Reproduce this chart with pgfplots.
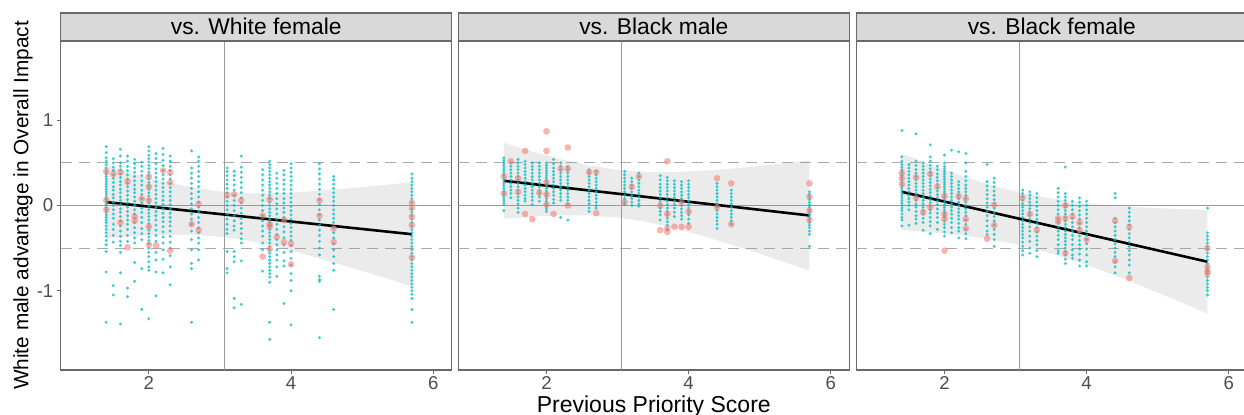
\documentclass[border=0pt]{standalone}
\usepackage{fontspec}
\setmainfont{Liberation Sans}
\usepackage{pgfplots}
\pgfplotsset{compat=1.18}

\definecolor{cyanc}{RGB}{0,191,196}
\definecolor{salm}{RGB}{248,118,109}
\definecolor{bandc}{RGB}{153,153,153}
\definecolor{refc}{RGB}{155,155,155}
\definecolor{dashc}{RGB}{170,170,170}
\definecolor{borderc}{RGB}{105,105,105}
\definecolor{stripc}{RGB}{217,217,217}
\definecolor{tickc}{RGB}{77,77,77}

\pgfplotsset{
  facet/.style={
    scale only axis, width=195.5bp, height=164.5bp,
    xmin=0.76, xmax=6.26, ymin=-1.93, ymax=1.93,
    anchor=south west,
    axis line style={draw=borderc, line width=0.6bp},
    xtick={2,4,6}, xticklabels={2,4,6},
    tick align=outside, major tick length=2bp,
    tick style={draw=borderc, line width=0.5bp},
    tick pos=left,
    ticklabel style={font=\fontsize{9.3bp}{10bp}\selectfont, text=tickc},
    xticklabel style={inner sep=1.2bp},
    yticklabel style={inner sep=1.5bp},
  },
  cyandots/.style={only marks, mark=*, mark size=0.75bp,
    mark options={draw=cyanc, fill=cyanc, line width=0.01bp, opacity=0.75}},
  salmdots/.style={only marks, mark=*, mark size=1.6bp,
    mark options={draw=salm, fill=salm, line width=0.01bp, opacity=0.55}},
  band/.style={draw=none, fill=bandc, fill opacity=0.2},
  fitline/.style={black, line width=1.3bp},
  refsolid/.style={refc, line width=0.55bp},
  refdash/.style={dashc, line width=0.55bp, dash pattern=on 5.5bp off 3.5bp},
}

\newcommand{\refs}{%
  \addplot[refdash] coordinates {(0.76,0.5)(6.26,0.5)};
  \addplot[refdash] coordinates {(0.76,-0.5)(6.26,-0.5)};
  \addplot[refsolid] coordinates {(0.76,0)(6.26,0)};
  \addplot[refsolid] coordinates {(3.06,-1.93)(3.06,1.93)};
}

\begin{document}
\begin{tikzpicture}
\useasboundingbox (0,0) rectangle (622bp,207.5bp);
\clip (0,0) rectangle (622bp,207.5bp);

% ---------- vs. White female
\begin{axis}[facet, at={(30.35bp,22.5bp)}, ytick={-1,0,1}, yticklabels={-1,0,1}]
\refs
\addplot[cyandots] coordinates {
(1.4,0.69)(1.4,0.62)(1.4,0.56)(1.4,0.52)(1.4,0.48)(1.4,0.44)(1.4,0.40)(1.4,0.37)(1.4,0.34)(1.4,0.31)(1.4,0.28)(1.4,0.25)(1.4,0.22)(1.4,0.19)(1.4,0.16)(1.4,0.13)(1.4,0.10)(1.4,0.07)(1.4,0.04)(1.4,0.01)(1.4,-0.02)(1.4,-0.05)(1.4,-0.08)(1.4,-0.11)(1.4,-0.14)(1.4,-0.17)(1.4,-0.20)(1.4,-0.24)(1.4,-0.28)(1.4,-0.32)(1.4,-0.36)(1.4,-0.41)(1.4,-0.46)(1.4,-0.54)(1.4,-0.78)(1.4,-1.37)
(1.5,0.55)(1.5,0.50)(1.5,0.45)(1.5,0.41)(1.5,0.36)(1.5,0.32)(1.5,0.27)(1.5,0.22)(1.5,0.18)(1.5,0.13)(1.5,0.09)(1.5,0.04)(1.5,0.00)(1.5,-0.05)(1.5,-0.10)(1.5,-0.15)(1.5,-0.22)(1.5,-0.28)(1.5,-0.35)(1.5,-0.43)(1.5,-0.94)(1.5,-1.05)
(1.6,0.66)(1.6,0.58)(1.6,0.50)(1.6,0.46)(1.6,0.42)(1.6,0.37)(1.6,0.33)(1.6,0.28)(1.6,0.24)(1.6,0.19)(1.6,0.15)(1.6,0.10)(1.6,0.06)(1.6,0.01)(1.6,-0.04)(1.6,-0.08)(1.6,-0.13)(1.6,-0.18)(1.6,-0.24)(1.6,-0.30)(1.6,-0.36)(1.6,-0.42)(1.6,-0.47)(1.6,-0.55)(1.6,-0.79)(1.6,-1.39)
(1.7,0.58)(1.7,0.52)(1.7,0.46)(1.7,0.41)(1.7,0.36)(1.7,0.31)(1.7,0.26)(1.7,0.22)(1.7,0.17)(1.7,0.12)(1.7,0.07)(1.7,0.03)(1.7,-0.02)(1.7,-0.07)(1.7,-0.12)(1.7,-0.17)(1.7,-0.22)(1.7,-0.28)(1.7,-0.35)(1.7,-0.42)(1.7,-0.97)(1.7,-1.07)
(1.8,0.54)(1.8,0.49)(1.8,0.44)(1.8,0.39)(1.8,0.34)(1.8,0.29)(1.8,0.24)(1.8,0.19)(1.8,0.15)(1.8,0.10)(1.8,0.05)(1.8,0.00)(1.8,-0.05)(1.8,-0.10)(1.8,-0.15)(1.8,-0.20)(1.8,-0.26)(1.8,-0.32)(1.8,-0.38)(1.8,-0.44)(1.8,-0.67)(1.8,-0.89)
(1.9,0.51)(1.9,0.46)(1.9,0.40)(1.9,0.35)(1.9,0.29)(1.9,0.24)(1.9,0.18)(1.9,0.13)(1.9,0.08)(1.9,0.03)(1.9,-0.03)(1.9,-0.08)(1.9,-0.14)(1.9,-0.20)(1.9,-0.27)(1.9,-0.33)(1.9,-0.40)(1.9,-0.74)(1.9,-1.22)
(2.0,0.69)(2.0,0.64)(2.0,0.59)(2.0,0.55)(2.0,0.51)(2.0,0.47)(2.0,0.43)(2.0,0.39)(2.0,0.35)(2.0,0.31)(2.0,0.27)(2.0,0.23)(2.0,0.19)(2.0,0.15)(2.0,0.11)(2.0,0.07)(2.0,0.03)(2.0,-0.01)(2.0,-0.05)(2.0,-0.09)(2.0,-0.13)(2.0,-0.17)(2.0,-0.21)(2.0,-0.25)(2.0,-0.29)(2.0,-0.33)(2.0,-0.37)(2.0,-0.41)(2.0,-0.45)(2.0,-0.50)(2.0,-0.55)(2.0,-0.60)(2.0,-0.66)(2.0,-0.72)(2.0,-0.76)(2.0,-1.33)
(2.1,0.61)(2.1,0.55)(2.1,0.49)(2.1,0.43)(2.1,0.38)(2.1,0.33)(2.1,0.28)(2.1,0.23)(2.1,0.18)(2.1,0.13)(2.1,0.08)(2.1,0.03)(2.1,-0.02)(2.1,-0.07)(2.1,-0.12)(2.1,-0.17)(2.1,-0.23)(2.1,-0.29)(2.1,-0.35)(2.1,-0.42)(2.1,-0.55)(2.1,-0.64)(2.1,-0.78)(2.1,-1.06)
(2.2,0.67)(2.2,0.60)(2.2,0.53)(2.2,0.47)(2.2,0.41)(2.2,0.36)(2.2,0.31)(2.2,0.26)(2.2,0.21)(2.2,0.16)(2.2,0.11)(2.2,0.06)(2.2,0.01)(2.2,-0.04)(2.2,-0.09)(2.2,-0.14)(2.2,-0.19)(2.2,-0.25)(2.2,-0.31)(2.2,-0.37)(2.2,-0.44)(2.2,-0.52)(2.2,-0.63)(2.2,-0.79)
(2.3,0.58)(2.3,0.52)(2.3,0.46)(2.3,0.41)(2.3,0.36)(2.3,0.31)(2.3,0.26)(2.3,0.21)(2.3,0.16)(2.3,0.11)(2.3,0.06)(2.3,0.01)(2.3,-0.04)(2.3,-0.09)(2.3,-0.14)(2.3,-0.19)(2.3,-0.24)(2.3,-0.30)(2.3,-0.36)(2.3,-0.43)(2.3,-0.50)(2.3,-0.59)(2.3,-0.72)(2.3,-0.93)
(2.6,0.64)(2.6,0.44)(2.6,0.38)(2.6,0.32)(2.6,0.26)(2.6,0.20)(2.6,0.14)(2.6,0.08)(2.6,0.02)(2.6,-0.04)(2.6,-0.10)(2.6,-0.16)(2.6,-0.22)(2.6,-0.30)(2.6,-0.40)(2.6,-0.52)(2.6,-0.68)(2.6,-0.74)(2.6,-1.37)
(2.7,0.57)(2.7,0.52)(2.7,0.46)(2.7,0.40)(2.7,0.34)(2.7,0.28)(2.7,0.22)(2.7,0.16)(2.7,0.10)(2.7,0.04)(2.7,-0.02)(2.7,-0.08)(2.7,-0.14)(2.7,-0.20)(2.7,-0.26)(2.7,-0.32)(2.7,-0.38)(2.7,-0.44)(2.7,-0.52)(2.7,-0.64)
(3.1,0.44)(3.1,0.40)(3.1,0.35)(3.1,0.30)(3.1,0.25)(3.1,0.20)(3.1,0.15)(3.1,0.10)(3.1,0.05)(3.1,0.00)(3.1,-0.05)(3.1,-0.10)(3.1,-0.16)(3.1,-0.22)(3.1,-0.28)(3.1,-0.33)(3.1,-0.54)(3.1,-0.74)(3.1,-0.79)
(3.2,0.40)(3.2,0.35)(3.2,0.30)(3.2,0.24)(3.2,0.18)(3.2,0.12)(3.2,0.06)(3.2,0.00)(3.2,-0.06)(3.2,-0.12)(3.2,-0.18)(3.2,-0.24)(3.2,-0.29)(3.2,-0.54)(3.2,-0.60)(3.2,-0.66)(3.2,-1.09)(3.2,-1.20)
(3.3,0.58)(3.3,0.45)(3.3,0.39)(3.3,0.33)(3.3,0.27)(3.3,0.21)(3.3,0.15)(3.3,0.09)(3.3,0.03)(3.3,-0.03)(3.3,-0.09)(3.3,-0.15)(3.3,-0.21)(3.3,-0.27)(3.3,-0.33)(3.3,-0.39)(3.3,-0.44)(3.3,-0.65)(3.3,-1.16)
(3.6,0.42)(3.6,0.36)(3.6,0.30)(3.6,0.24)(3.6,0.18)(3.6,0.12)(3.6,0.06)(3.6,0.00)(3.6,-0.06)(3.6,-0.12)(3.6,-0.18)(3.6,-0.24)(3.6,-0.30)(3.6,-0.36)(3.6,-0.44)(3.6,-0.52)(3.6,-0.77)
(3.7,0.52)(3.7,0.48)(3.7,0.44)(3.7,0.40)(3.7,0.36)(3.7,0.32)(3.7,0.28)(3.7,0.24)(3.7,0.20)(3.7,0.16)(3.7,0.12)(3.7,0.08)(3.7,0.04)(3.7,0.00)(3.7,-0.04)(3.7,-0.08)(3.7,-0.12)(3.7,-0.16)(3.7,-0.20)(3.7,-0.24)(3.7,-0.28)(3.7,-0.32)(3.7,-0.36)(3.7,-0.40)(3.7,-0.44)(3.7,-0.48)(3.7,-0.52)(3.7,-0.56)(3.7,-0.60)(3.7,-0.64)(3.7,-0.68)(3.7,-0.72)(3.7,-0.76)(3.7,-0.80)(3.7,-0.84)(3.7,-0.90)(3.7,-1.37)(3.7,-1.57)
(3.8,0.38)(3.8,0.32)(3.8,0.26)(3.8,0.20)(3.8,0.14)(3.8,0.08)(3.8,0.02)(3.8,-0.04)(3.8,-0.10)(3.8,-0.16)(3.8,-0.22)(3.8,-0.28)(3.8,-0.34)(3.8,-0.40)(3.8,-0.46)(3.8,-0.52)(3.8,-0.58)(3.8,-0.64)(3.8,-0.72)(3.8,-0.83)
(3.9,0.41)(3.9,0.36)(3.9,0.30)(3.9,0.25)(3.9,0.19)(3.9,0.14)(3.9,0.08)(3.9,0.03)(3.9,-0.03)(3.9,-0.08)(3.9,-0.14)(3.9,-0.19)(3.9,-0.25)(3.9,-0.31)(3.9,-0.38)(3.9,-0.46)(3.9,-0.55)(3.9,-0.65)(3.9,-0.71)(3.9,-1.15)
(4.0,0.49)(4.0,0.44)(4.0,0.39)(4.0,0.34)(4.0,0.29)(4.0,0.24)(4.0,0.19)(4.0,0.14)(4.0,0.09)(4.0,0.04)(4.0,-0.01)(4.0,-0.06)(4.0,-0.11)(4.0,-0.16)(4.0,-0.21)(4.0,-0.26)(4.0,-0.31)(4.0,-0.36)(4.0,-0.41)(4.0,-0.47)(4.0,-0.54)(4.0,-0.62)(4.0,-0.70)(4.0,-0.80)(4.0,-0.88)(4.0,-1.00)(4.0,-1.40)
(4.4,0.49)(4.4,0.43)(4.4,0.37)(4.4,0.31)(4.4,0.25)(4.4,0.19)(4.4,0.13)(4.4,0.07)(4.4,0.01)(4.4,-0.05)(4.4,-0.11)(4.4,-0.17)(4.4,-0.23)(4.4,-0.29)(4.4,-0.35)(4.4,-0.42)(4.4,-0.50)(4.4,-0.58)(4.4,-0.83)(4.4,-0.87)(4.4,-0.89)(4.4,-1.55)
(4.6,0.34)(4.6,0.30)(4.6,0.25)(4.6,0.20)(4.6,0.15)(4.6,0.10)(4.6,0.05)(4.6,0.00)(4.6,-0.05)(4.6,-0.10)(4.6,-0.15)(4.6,-0.20)(4.6,-0.26)(4.6,-0.32)(4.6,-0.38)(4.6,-0.45)(4.6,-0.52)(4.6,-0.60)(4.6,-0.68)(4.6,-0.76)(4.6,-1.22)
(5.7,0.37)(5.7,0.32)(5.7,0.28)(5.7,0.24)(5.7,0.20)(5.7,0.16)(5.7,0.12)(5.7,0.08)(5.7,0.04)(5.7,0.00)(5.7,-0.04)(5.7,-0.08)(5.7,-0.12)(5.7,-0.16)(5.7,-0.20)(5.7,-0.24)(5.7,-0.28)(5.7,-0.32)(5.7,-0.36)(5.7,-0.40)(5.7,-0.44)(5.7,-0.48)(5.7,-0.52)(5.7,-0.56)(5.7,-0.60)(5.7,-0.64)(5.7,-0.68)(5.7,-0.72)(5.7,-0.76)(5.7,-0.80)(5.7,-0.84)(5.7,-0.88)(5.7,-0.92)(5.7,-0.96)(5.7,-1.00)(5.7,-1.04)(5.7,-1.09)(5.7,-1.22)(5.7,-1.37)
};
\addplot[salmdots] coordinates {
(1.4,0.40)(1.4,0.06)(1.4,-0.05)(1.5,0.37)(1.6,0.39)(1.6,-0.20)(1.7,0.28)(1.7,-0.49)(1.8,-0.13)(1.8,-0.18)(1.9,0.08)(2.0,0.34)(2.0,0.22)(2.0,0.06)(2.0,-0.25)(2.0,-0.46)(2.1,-0.47)(2.2,0.41)(2.3,0.39)(2.3,0.27)(2.3,-0.53)(2.6,-0.22)(2.7,0.02)(2.7,-0.29)(3.1,0.12)(3.2,0.13)(3.3,0.06)(3.6,-0.12)(3.6,-0.60)(3.7,0.07)(3.7,-0.22)(3.7,-0.25)(3.7,-0.51)(3.8,-0.37)(3.9,-0.17)(3.9,-0.43)(4.0,-0.45)(4.0,-0.69)(4.4,0.06)(4.4,-0.12)(4.6,-0.27)(4.6,-0.43)(5.7,0.03)(5.7,-0.03)(5.7,-0.13)(5.7,-0.23)(5.7,-0.61)
};
\addplot[band] coordinates {
(1.4,0.47)(1.8,0.372)(2.2,0.285)(2.6,0.213)(3.0,0.165)(3.4,0.143)(3.8,0.145)(4.2,0.161)(4.6,0.189)(5.0,0.214)(5.4,0.249)(5.7,0.273)
(5.7,-0.947)(5.4,-0.871)(5.0,-0.766)(4.6,-0.671)(4.2,-0.573)(3.8,-0.485)(3.4,-0.413)(3.0,-0.365)(2.6,-0.343)(2.2,-0.345)(1.8,-0.362)(1.4,-0.39)
};
\addplot[fitline] coordinates {(1.4,0.04)(5.7,-0.337)};
\end{axis}

% ---------- vs. Black male
\begin{axis}[facet, at={(229.15bp,22.5bp)}, ytick=\empty]
\refs
\addplot[cyandots] coordinates {
(1.4,0.56)(1.4,0.53)(1.4,0.50)(1.4,0.47)(1.4,0.44)(1.4,0.41)(1.4,0.38)(1.4,0.35)(1.4,0.32)(1.4,0.29)(1.4,0.26)(1.4,0.23)(1.4,0.20)(1.4,0.17)(1.4,0.14)(1.4,0.11)(1.4,0.08)(1.4,0.05)(1.4,0.02)(1.4,-0.06)
(1.5,0.50)(1.5,0.46)(1.5,0.42)(1.5,0.38)(1.5,0.34)(1.5,0.30)(1.5,0.26)(1.5,0.22)(1.5,0.18)(1.5,0.14)(1.5,0.09)
(1.6,0.54)(1.6,0.50)(1.6,0.46)(1.6,0.42)(1.6,0.38)(1.6,0.34)(1.6,0.30)(1.6,0.26)(1.6,0.22)(1.6,0.18)(1.6,0.14)(1.6,0.10)(1.6,0.06)(1.6,0.02)(1.6,-0.03)(1.6,-0.08)
(1.7,0.52)(1.7,0.48)(1.7,0.44)(1.7,0.40)(1.7,0.36)(1.7,0.32)(1.7,0.28)(1.7,0.24)(1.7,0.20)(1.7,0.16)(1.7,0.12)(1.7,0.08)(1.7,0.05)
(1.8,0.50)(1.8,0.46)(1.8,0.42)(1.8,0.38)(1.8,0.34)(1.8,0.30)(1.8,0.26)(1.8,0.22)(1.8,0.18)(1.8,0.14)(1.8,0.10)(1.8,0.06)(1.8,0.01)
(1.9,0.50)(1.9,0.46)(1.9,0.42)(1.9,0.38)(1.9,0.34)(1.9,0.30)(1.9,0.26)(1.9,0.22)(1.9,0.18)(1.9,0.14)(1.9,0.10)(1.9,0.05)
(2.0,0.50)(2.0,0.47)(2.0,0.44)(2.0,0.41)(2.0,0.38)(2.0,0.35)(2.0,0.32)(2.0,0.29)(2.0,0.26)(2.0,0.23)(2.0,0.20)(2.0,0.17)(2.0,0.14)(2.0,0.11)(2.0,0.08)(2.0,0.05)(2.0,0.02)(2.0,-0.01)(2.0,-0.04)(2.0,-0.07)
(2.1,0.54)(2.1,0.49)(2.1,0.44)(2.1,0.40)(2.1,0.36)(2.1,0.32)(2.1,0.28)(2.1,0.24)(2.1,0.20)(2.1,0.16)(2.1,0.12)(2.1,0.07)(2.1,0.03)
(2.2,0.50)(2.2,0.46)(2.2,0.42)(2.2,0.38)(2.2,0.34)(2.2,0.30)(2.2,0.26)(2.2,0.22)(2.2,0.18)(2.2,0.14)(2.2,0.10)(2.2,0.06)(2.2,-0.14)
(2.3,0.46)(2.3,0.42)(2.3,0.38)(2.3,0.34)(2.3,0.30)(2.3,0.26)(2.3,0.22)(2.3,0.18)(2.3,0.14)(2.3,0.10)(2.3,0.06)(2.3,0.02)(2.3,-0.17)
(2.6,0.42)(2.6,0.38)(2.6,0.34)(2.6,0.30)(2.6,0.26)(2.6,0.22)(2.6,0.18)(2.6,0.14)(2.6,0.10)(2.6,0.06)(2.6,0.02)(2.6,-0.03)(2.6,-0.07)
(2.7,0.40)(2.7,0.36)(2.7,0.32)(2.7,0.28)(2.7,0.24)(2.7,0.20)(2.7,0.16)(2.7,0.12)(2.7,0.08)(2.7,0.04)(2.7,0.00)(2.7,-0.03)
(3.1,0.40)(3.1,0.36)(3.1,0.32)(3.1,0.28)(3.1,0.24)(3.1,0.20)(3.1,0.16)(3.1,0.12)(3.1,0.08)(3.1,0.04)(3.1,0.01)
(3.2,0.32)(3.2,0.28)(3.2,0.24)(3.2,0.20)(3.2,0.16)(3.2,0.12)(3.2,0.08)(3.2,0.04)(3.2,0.00)
(3.3,0.38)(3.3,0.34)(3.3,0.30)(3.3,0.26)(3.3,0.22)(3.3,0.18)(3.3,0.14)(3.3,0.10)(3.3,0.06)(3.3,0.02)(3.3,-0.01)
(3.6,0.35)(3.6,0.30)(3.6,0.25)(3.6,0.21)(3.6,0.17)(3.6,0.13)(3.6,0.09)(3.6,0.05)(3.6,0.01)(3.6,-0.03)(3.6,-0.07)(3.6,-0.11)(3.6,-0.17)
(3.7,0.33)(3.7,0.29)(3.7,0.25)(3.7,0.21)(3.7,0.17)(3.7,0.13)(3.7,0.09)(3.7,0.05)(3.7,0.01)(3.7,-0.03)(3.7,-0.07)(3.7,-0.11)(3.7,-0.15)(3.7,-0.19)(3.7,-0.23)(3.7,-0.28)
(3.8,0.29)(3.8,0.25)(3.8,0.21)(3.8,0.17)(3.8,0.13)(3.8,0.09)(3.8,0.05)(3.8,0.01)(3.8,-0.03)(3.8,-0.08)(3.8,-0.13)
(3.9,0.28)(3.9,0.24)(3.9,0.20)(3.9,0.16)(3.9,0.12)(3.9,0.08)(3.9,0.04)(3.9,0.00)(3.9,-0.04)(3.9,-0.08)(3.9,-0.12)(3.9,-0.16)
(4.0,0.29)(4.0,0.25)(4.0,0.21)(4.0,0.17)(4.0,0.13)(4.0,0.09)(4.0,0.05)(4.0,0.01)(4.0,-0.03)(4.0,-0.07)(4.0,-0.11)(4.0,-0.16)(4.0,-0.21)
(4.4,0.26)(4.4,0.22)(4.4,0.18)(4.4,0.14)(4.4,0.10)(4.4,0.06)(4.4,0.02)(4.4,-0.02)(4.4,-0.06)(4.4,-0.10)(4.4,-0.14)(4.4,-0.18)(4.4,-0.22)(4.4,-0.27)
(4.6,0.18)(4.6,0.14)(4.6,0.10)(4.6,0.06)(4.6,0.02)(4.6,-0.02)(4.6,-0.06)(4.6,-0.10)(4.6,-0.14)(4.6,-0.18)(4.6,-0.22)
(5.7,0.16)(5.7,0.13)(5.7,0.10)(5.7,0.07)(5.7,0.04)(5.7,0.01)(5.7,-0.02)(5.7,-0.05)(5.7,-0.08)(5.7,-0.11)(5.7,-0.14)(5.7,-0.17)(5.7,-0.20)(5.7,-0.23)(5.7,-0.26)(5.7,-0.30)(5.7,-0.34)(5.7,-0.48)
};
\addplot[salmdots] coordinates {
(1.4,0.34)(1.4,0.14)(1.5,0.52)(1.6,0.32)(1.6,0.16)(1.7,0.64)(1.7,-0.10)(1.8,-0.16)(1.9,0.15)(2.0,0.87)(2.0,0.64)(2.0,0.27)(2.0,0.13)(2.0,0.01)(2.1,-0.10)(2.2,0.43)(2.3,0.68)(2.3,0.43)(2.3,0.00)(2.6,0.39)(2.7,0.39)(2.7,-0.09)(3.1,0.04)(3.2,0.22)(3.3,0.34)(3.6,0.00)(3.6,-0.29)(3.7,0.52)(3.7,-0.10)(3.7,-0.27)(3.7,-0.31)(3.8,-0.25)(3.9,0.04)(3.9,-0.25)(4.0,-0.07)(4.0,-0.25)(4.4,0.32)(4.4,-0.02)(4.6,0.26)(4.6,-0.22)(5.7,0.26)(5.7,0.10)(5.7,-0.06)(5.7,-0.17)
};
\addplot[band] coordinates {
(1.4,0.735)(1.8,0.634)(2.2,0.543)(2.6,0.469)(3.0,0.419)(3.4,0.394)(3.8,0.392)(4.2,0.407)(4.6,0.432)(5.0,0.464)(5.4,0.500)(5.7,0.530)
(5.7,-0.764)(5.4,-0.678)(5.0,-0.566)(4.6,-0.458)(4.2,-0.357)(3.8,-0.266)(3.4,-0.192)(3.0,-0.141)(2.6,-0.117)(2.2,-0.115)(1.8,-0.130)(1.4,-0.155)
};
\addplot[fitline] coordinates {(1.4,0.29)(5.7,-0.117)};
\end{axis}

% ---------- vs. Black female
\begin{axis}[facet, at={(428.15bp,22.5bp)}, ytick=\empty]
\refs
\addplot[cyandots] coordinates {
(1.4,0.88)(1.4,0.57)(1.4,0.52)(1.4,0.48)(1.4,0.45)(1.4,0.42)(1.4,0.39)(1.4,0.36)(1.4,0.33)(1.4,0.30)(1.4,0.27)(1.4,0.24)(1.4,0.21)(1.4,0.18)(1.4,0.15)(1.4,0.12)(1.4,0.09)(1.4,0.06)(1.4,0.03)(1.4,0.00)(1.4,-0.03)(1.4,-0.06)(1.4,-0.10)(1.4,-0.14)(1.4,-0.17)(1.4,-0.24)
(1.5,0.48)(1.5,0.44)(1.5,0.40)(1.5,0.36)(1.5,0.32)(1.5,0.28)(1.5,0.24)(1.5,0.20)(1.5,0.16)(1.5,0.12)(1.5,0.08)(1.5,0.04)(1.5,0.00)(1.5,-0.05)(1.5,-0.23)
(1.6,0.84)(1.6,0.52)(1.6,0.47)(1.6,0.42)(1.6,0.38)(1.6,0.34)(1.6,0.30)(1.6,0.26)(1.6,0.22)(1.6,0.18)(1.6,0.14)(1.6,0.10)(1.6,0.06)(1.6,0.02)(1.6,-0.02)(1.6,-0.07)(1.6,-0.12)(1.6,-0.16)(1.6,-0.21)
(1.7,0.50)(1.7,0.46)(1.7,0.42)(1.7,0.38)(1.7,0.34)(1.7,0.30)(1.7,0.26)(1.7,0.22)(1.7,0.18)(1.7,0.14)(1.7,0.10)(1.7,0.06)(1.7,0.02)(1.7,-0.02)(1.7,-0.06)(1.7,-0.10)(1.7,-0.15)(1.7,-0.20)(1.7,-0.29)
(1.8,0.71)(1.8,0.57)(1.8,0.52)(1.8,0.47)(1.8,0.43)(1.8,0.39)(1.8,0.35)(1.8,0.31)(1.8,0.27)(1.8,0.23)(1.8,0.19)(1.8,0.15)(1.8,0.11)(1.8,0.07)(1.8,0.03)(1.8,-0.01)(1.8,-0.05)(1.8,-0.09)(1.8,-0.14)(1.8,-0.19)(1.8,-0.24)(1.8,-0.33)
(1.9,0.46)(1.9,0.42)(1.9,0.37)(1.9,0.33)(1.9,0.29)(1.9,0.25)(1.9,0.21)(1.9,0.17)(1.9,0.13)(1.9,0.09)(1.9,0.05)(1.9,0.01)(1.9,-0.04)(1.9,-0.09)(1.9,-0.14)(1.9,-0.20)(1.9,-0.28)
(2.0,0.59)(2.0,0.50)(2.0,0.46)(2.0,0.43)(2.0,0.40)(2.0,0.37)(2.0,0.34)(2.0,0.31)(2.0,0.28)(2.0,0.25)(2.0,0.22)(2.0,0.19)(2.0,0.16)(2.0,0.13)(2.0,0.10)(2.0,0.07)(2.0,0.04)(2.0,0.01)(2.0,-0.02)(2.0,-0.05)(2.0,-0.08)(2.0,-0.11)(2.0,-0.14)(2.0,-0.18)(2.0,-0.22)(2.0,-0.26)(2.0,-0.31)(2.0,-0.36)
(2.1,0.65)(2.1,0.38)(2.1,0.34)(2.1,0.30)(2.1,0.26)(2.1,0.22)(2.1,0.18)(2.1,0.14)(2.1,0.10)(2.1,0.06)(2.1,0.02)(2.1,-0.02)(2.1,-0.06)(2.1,-0.10)(2.1,-0.15)(2.1,-0.20)(2.1,-0.26)(2.1,-0.32)
(2.2,0.63)(2.2,0.28)(2.2,0.24)(2.2,0.20)(2.2,0.16)(2.2,0.12)(2.2,0.08)(2.2,0.04)(2.2,0.00)(2.2,-0.04)(2.2,-0.08)(2.2,-0.12)(2.2,-0.16)(2.2,-0.21)(2.2,-0.26)(2.2,-0.30)(2.2,-0.38)
(2.3,0.61)(2.3,0.50)(2.3,0.40)(2.3,0.34)(2.3,0.29)(2.3,0.24)(2.3,0.20)(2.3,0.16)(2.3,0.12)(2.3,0.08)(2.3,0.04)(2.3,0.00)(2.3,-0.04)(2.3,-0.08)(2.3,-0.12)(2.3,-0.17)(2.3,-0.22)(2.3,-0.28)(2.3,-0.33)(2.3,-0.39)
(2.6,0.48)(2.6,0.28)(2.6,0.23)(2.6,0.18)(2.6,0.13)(2.6,0.08)(2.6,0.03)(2.6,-0.02)(2.6,-0.07)(2.6,-0.12)(2.6,-0.18)(2.6,-0.24)(2.6,-0.30)(2.6,-0.34)
(2.7,0.32)(2.7,0.27)(2.7,0.22)(2.7,0.17)(2.7,0.12)(2.7,0.07)(2.7,0.02)(2.7,-0.03)(2.7,-0.08)(2.7,-0.13)(2.7,-0.18)(2.7,-0.23)(2.7,-0.28)(2.7,-0.34)(2.7,-0.40)(2.7,-0.48)
(3.1,0.18)(3.1,0.14)(3.1,0.10)(3.1,0.06)(3.1,0.02)(3.1,-0.02)(3.1,-0.06)(3.1,-0.10)(3.1,-0.14)(3.1,-0.18)(3.1,-0.22)(3.1,-0.26)(3.1,-0.30)(3.1,-0.34)(3.1,-0.38)(3.1,-0.43)(3.1,-0.48)(3.1,-0.53)(3.1,-0.58)
(3.2,0.16)(3.2,0.12)(3.2,0.08)(3.2,0.04)(3.2,0.00)(3.2,-0.04)(3.2,-0.08)(3.2,-0.12)(3.2,-0.16)(3.2,-0.20)(3.2,-0.25)(3.2,-0.30)(3.2,-0.36)(3.2,-0.42)(3.2,-0.50)(3.2,-0.56)
(3.3,0.14)(3.3,0.09)(3.3,0.04)(3.3,-0.01)(3.3,-0.06)(3.3,-0.11)(3.3,-0.16)(3.3,-0.21)(3.3,-0.26)(3.3,-0.31)(3.3,-0.36)(3.3,-0.41)(3.3,-0.46)(3.3,-0.53)(3.3,-0.60)
(3.6,0.20)(3.6,0.15)(3.6,0.10)(3.6,0.05)(3.6,0.00)(3.6,-0.05)(3.6,-0.10)(3.6,-0.15)(3.6,-0.20)(3.6,-0.25)(3.6,-0.30)(3.6,-0.35)(3.6,-0.40)(3.6,-0.46)(3.6,-0.53)(3.6,-0.56)
(3.7,0.45)(3.7,0.14)(3.7,0.10)(3.7,0.06)(3.7,0.02)(3.7,-0.02)(3.7,-0.06)(3.7,-0.10)(3.7,-0.14)(3.7,-0.18)(3.7,-0.22)(3.7,-0.26)(3.7,-0.30)(3.7,-0.34)(3.7,-0.38)(3.7,-0.42)(3.7,-0.46)(3.7,-0.50)(3.7,-0.54)(3.7,-0.58)(3.7,-0.63)(3.7,-0.68)
(3.8,0.05)(3.8,0.00)(3.8,-0.05)(3.8,-0.10)(3.8,-0.15)(3.8,-0.20)(3.8,-0.25)(3.8,-0.30)(3.8,-0.35)(3.8,-0.40)(3.8,-0.46)(3.8,-0.52)(3.8,-0.58)(3.8,-0.62)
(3.9,0.09)(3.9,0.04)(3.9,-0.01)(3.9,-0.06)(3.9,-0.11)(3.9,-0.16)(3.9,-0.21)(3.9,-0.26)(3.9,-0.31)(3.9,-0.36)(3.9,-0.41)(3.9,-0.46)(3.9,-0.51)(3.9,-0.57)(3.9,-0.64)(3.9,-0.71)
(4.0,0.05)(4.0,0.00)(4.0,-0.05)(4.0,-0.10)(4.0,-0.15)(4.0,-0.20)(4.0,-0.25)(4.0,-0.30)(4.0,-0.35)(4.0,-0.40)(4.0,-0.45)(4.0,-0.51)(4.0,-0.58)(4.0,-0.66)(4.0,-0.71)
(4.4,0.14)(4.4,0.09)(4.4,-0.15)(4.4,-0.20)(4.4,-0.25)(4.4,-0.30)(4.4,-0.35)(4.4,-0.40)(4.4,-0.45)(4.4,-0.50)(4.4,-0.55)(4.4,-0.60)(4.4,-0.66)(4.4,-0.72)(4.4,-0.79)
(4.6,-0.03)(4.6,-0.08)(4.6,-0.13)(4.6,-0.18)(4.6,-0.23)(4.6,-0.28)(4.6,-0.33)(4.6,-0.38)(4.6,-0.43)(4.6,-0.48)(4.6,-0.53)(4.6,-0.58)(4.6,-0.64)(4.6,-0.70)(4.6,-0.79)
(5.7,-0.03)(5.7,-0.32)(5.7,-0.36)(5.7,-0.40)(5.7,-0.44)(5.7,-0.48)(5.7,-0.52)(5.7,-0.56)(5.7,-0.60)(5.7,-0.64)(5.7,-0.68)(5.7,-0.72)(5.7,-0.76)(5.7,-0.80)(5.7,-0.84)(5.7,-0.88)(5.7,-0.92)(5.7,-0.96)(5.7,-1.00)(5.7,-1.05)
};
\addplot[salmdots] coordinates {
(1.4,0.38)(1.4,0.32)(1.4,0.25)(1.6,0.33)(1.6,0.09)(1.7,-0.08)(1.8,0.37)(1.8,-0.02)(1.9,0.22)(2.0,0.11)(2.0,-0.10)(2.0,-0.16)(2.0,-0.53)(2.2,0.11)(2.3,0.08)(2.3,-0.16)(2.3,-0.27)(2.6,-0.39)(2.7,0.01)(2.7,-0.23)(3.1,0.09)(3.2,-0.10)(3.3,-0.29)(3.6,-0.15)(3.6,-0.19)(3.7,0.00)(3.7,-0.15)(3.7,-0.56)(3.8,-0.13)(3.9,-0.20)(3.9,-0.29)(4.0,-0.40)(4.4,-0.18)(4.4,-0.65)(4.6,-0.25)(4.6,-0.85)(5.7,-0.50)(5.7,-0.72)(5.7,-0.77)(5.7,-0.80)
};
\addplot[band] coordinates {
(1.4,0.610)(1.8,0.480)(2.2,0.360)(2.6,0.254)(3.0,0.165)(3.4,0.097)(3.8,0.046)(4.2,0.011)(4.6,-0.014)(5.0,-0.032)(5.4,-0.044)(5.7,-0.051)
(5.7,-1.269)(5.4,-1.162)(5.0,-1.022)(4.6,-0.886)(4.2,-0.759)(3.8,-0.642)(3.4,-0.539)(3.0,-0.455)(2.6,-0.392)(2.2,-0.346)(1.8,-0.313)(1.4,-0.290)
};
\addplot[fitline] coordinates {(1.4,0.16)(5.7,-0.66)};
\end{axis}

% facet strips
\draw[borderc, line width=0.6bp, fill=stripc] (30.35bp,187bp) rectangle (225.85bp,201bp);
\draw[borderc, line width=0.6bp, fill=stripc] (229.15bp,187bp) rectangle (424.65bp,201bp);
\draw[borderc, line width=0.6bp, fill=stripc] (428.15bp,187bp) rectangle (623.65bp,201bp);
\node[anchor=base, inner sep=0pt, font=\fontsize{11.4bp}{13bp}\selectfont] at (128.1bp,190bp) {vs. White female};
\node[anchor=base, inner sep=0pt, font=\fontsize{11.4bp}{13bp}\selectfont] at (326.9bp,190bp) {vs. Black male};
\node[anchor=base, inner sep=0pt, font=\fontsize{11.4bp}{13bp}\selectfont] at (525.9bp,190bp) {vs. Black female};

% axis titles
\node[rotate=90, inner sep=0pt, font=\fontsize{10.4bp}{12bp}\selectfont] at (11.5bp,104.75bp) {White male advantage in Overall Impact};
\node[anchor=base, inner sep=0pt, font=\fontsize{11.5bp}{13bp}\selectfont] at (326.9bp,1.3bp) {Previous Priority Score};
\end{tikzpicture}
\end{document}
